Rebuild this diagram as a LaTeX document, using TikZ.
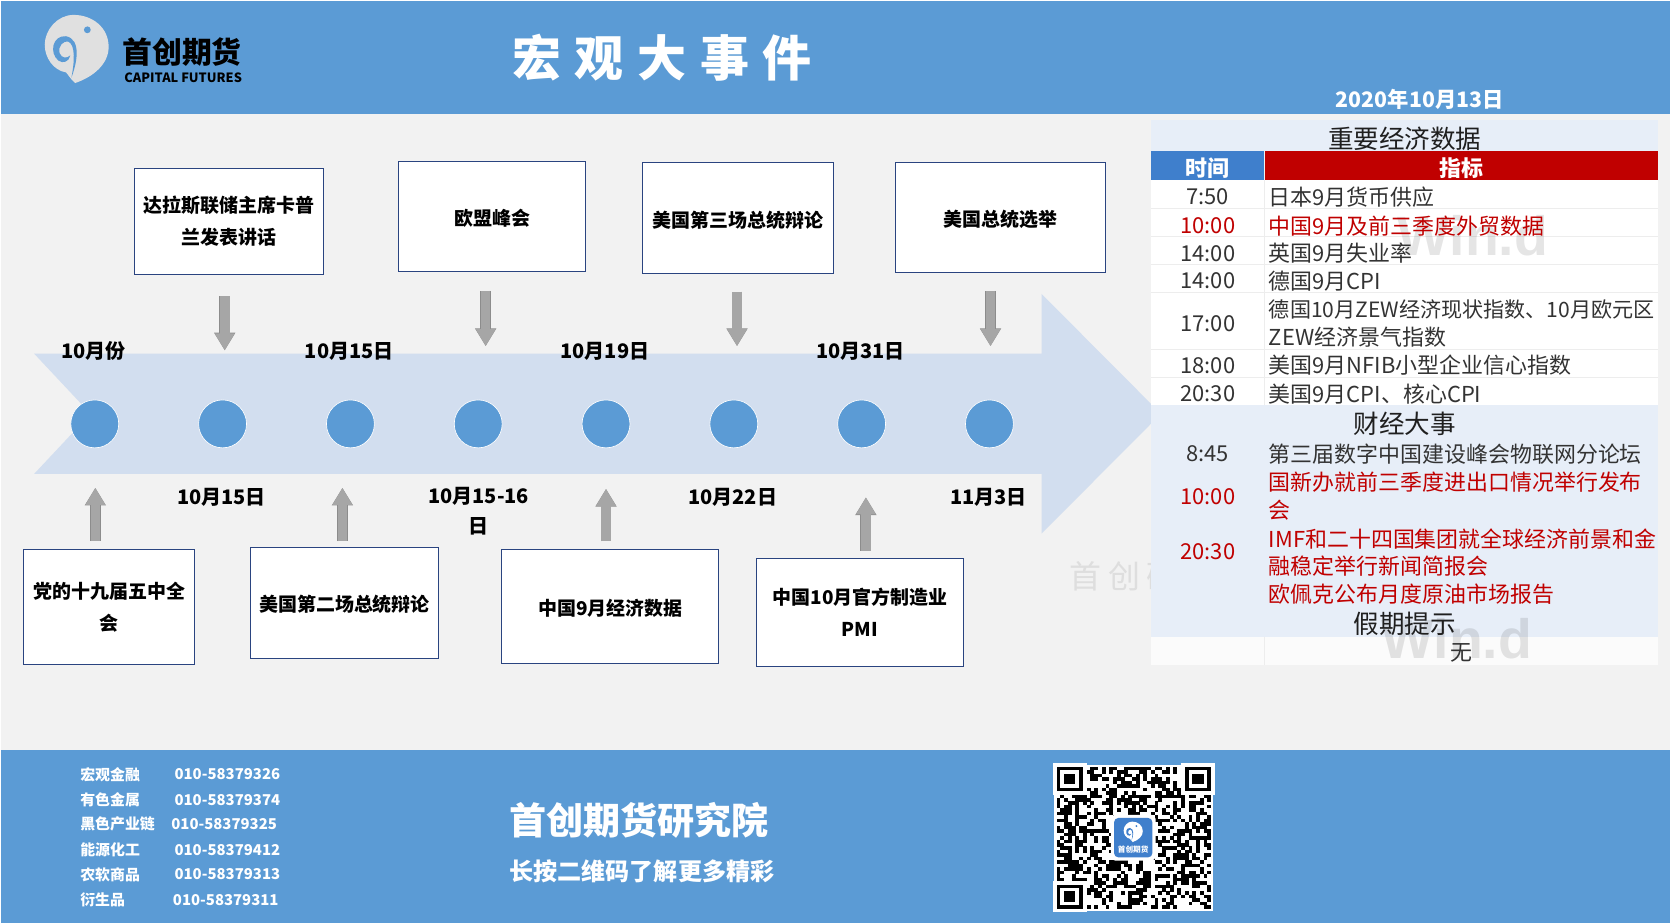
\documentclass[tikz,border=0pt]{standalone}
\usepackage{fontspec}
\setmainfont{Noto Sans CJK SC}
\newfontfamily\windfont{Liberation Sans}
\usetikzlibrary{arrows.meta}

\definecolor{barblue}{HTML}{5B9BD5}
\definecolor{pagegrey}{HTML}{F2F2F2}
\definecolor{bandblue}{HTML}{D2DEEF}
\definecolor{stripblue}{HTML}{E7EEF8}
\definecolor{headblue}{HTML}{3F7FCC}
\definecolor{headred}{HTML}{C00000}
\definecolor{boxline}{HTML}{2A4480}
\definecolor{arrowgrey}{HTML}{A6A6A6}
\definecolor{rowline}{HTML}{EDEDED}
\definecolor{inkgrey}{HTML}{333333}

\tikzset{
  eventbox/.style={draw=boxline,fill=white,line width=0.5pt,inner sep=0pt,align=center,
    execute at begin node={\rule{0pt}{9.5pt}},font=\fontsize{8.9}{15}\selectfont\bfseries},
  datelabel/.style={inner sep=0pt,align=center,yshift=-0.4pt,font=\fontsize{9.4}{14}\selectfont\bfseries},
  dot/.style={circle,draw=white,line width=0.3pt,fill=barblue,minimum size=22.5pt,inner sep=0pt},
  blockarrow/.style={draw=arrowgrey,line width=4.5pt,-{Triangle[width=8.75pt,length=8pt]},
    preaction={draw=gray!90,line width=5.1pt,-{Triangle[width=9.4pt,length=8.3pt]}}},
  rowtext/.style={inner sep=0pt,anchor=west,yshift=-0.5pt,font=\fontsize{10.3}{12}\selectfont},
  rowtime/.style={inner sep=0pt,yshift=-0.5pt,font=\fontsize{10.3}{12}\selectfont},
  sectitle/.style={inner sep=0pt,yshift=-0.5pt,text=black!88,font=\fontsize{12}{14}\selectfont},
  footlabel/.style={inner sep=0pt,anchor=west,yshift=-0.5pt,text=white,font=\fontsize{7}{9}\selectfont\bfseries},
  pics/swirl/.style n args={2}{code={
    \fill[#1] (-1.5,32) .. controls (16,26) and (30,14) .. (30,-2)
      .. controls (30,-20) and (15,-32) .. (-3,-32)
      .. controls (-18,-32) and (-30,-18) .. (-30,-4)
      .. controls (-30,8) and (-22,20) .. (-10,22)
      .. controls (-8,24) and (-6,28) .. (-1.5,32) -- cycle;
    \fill[#2] (-5,27) .. controls (0,14) and (5,-9) .. (-10,-12)
      .. controls (-23,-13) and (-26,4) .. (-17,11)
      .. controls (-13,14) and (-7,12) .. (-6,6)
      .. controls (-9,9) and (-14,9) .. (-16,4)
      .. controls (-18,-3) and (-12,-8) .. (-8,-7)
      .. controls (-1,-4) and (-2,12) .. (-5,27) -- cycle;
    \fill[#2] (10,-18) circle (3.2);
  }},
}

\begin{document}
\begin{tikzpicture}[x=0.5pt,y=-0.5pt]
  \useasboundingbox (0,0) rectangle (1568,866.7);
  \fill[white] (0,0) rectangle (1568,866.7);

  % page and the two blue bars
  \fill[pagegrey] (1,107) rectangle (1568,704);
  \fill[barblue] (1,1) rectangle (1568,107);
  \fill[barblue] (1,704) rectangle (1568,866.7);

  % header
  \pic at (72,46) {swirl={black!12}{barblue}};
  \node[inner sep=0pt,font=\fontsize{14}{16}\selectfont\bfseries] (brand) at (171,49) {首创期货};
  \node[inner sep=0pt,font=\fontsize{6}{7}\selectfont\bfseries] (brandlatin) at (172,73) {CAPITAL FUTURES};
  \node[inner sep=0pt,text=white,font=\fontsize{23}{26}\selectfont\bfseries] (title) at (621.5,54)
    {宏\hspace{6.4pt}观\hspace{6.4pt}大\hspace{6.4pt}事\hspace{6.4pt}件};
  \node[inner sep=0pt,text=white,font=\fontsize{10}{12}\selectfont\bfseries] (date) at (1333,93.5) {2020年10月13日};

  % watermark under the table
  \node[inner sep=0pt,anchor=west,text=black!13,font=\fontsize{15}{18}\selectfont] (markcn) at (1004,541)
    {首\hspace{3pt}创\hspace{3pt}研};

  % timeline band
  \fill[bandblue] (32,332) -- (978,332) -- (978,276) -- (1090,388.5) -- (978,501) -- (978,445) -- (32,445) -- (85,388.5) -- cycle;

  \foreach \n/\x in {1/89,2/209,3/329,4/449,5/569,6/689,7/809,8/929}{
    \node[dot] (dot\n) at (\x,398) {};
  }

  \foreach \n/\x/\txt in {a/88/10月份,b/328/10月15日,c/568/10月19日,d/808/10月31日}{
    \node[datelabel] (up\n) at (\x,329) {\txt};
  }
  \foreach \n/\x/\txt in {a/208/10月15日,b/688/10月22日,c/928/11月3日}{
    \node[datelabel] (low\n) at (\x,466) {\txt};
  }
  \node[datelabel,anchor=north] (lowd) at (449.5,456) {10月15-16\\日};

  % event boxes
  \node[eventbox,minimum width=89pt,minimum height=50pt] (top1) at (215,208) {达拉斯联储主席卡普\\兰发表讲话};
  \node[eventbox,minimum width=88pt,minimum height=51.5pt] (top2) at (462,203.5) {欧盟峰会};
  \node[eventbox,minimum width=90pt,minimum height=52pt] (top3) at (693,205) {美国第三场总统辩论};
  \node[eventbox,minimum width=98.5pt,minimum height=51.5pt] (top4) at (939.5,204.5) {美国总统选举};

  \node[eventbox,minimum width=80.5pt,minimum height=54pt] (bot1) at (102.5,570) {党的十九届五中全\\会};
  \node[eventbox,minimum width=88.5pt,minimum height=52pt] (bot2) at (323.5,566) {美国第二场总统辩论};
  \node[eventbox,minimum width=102pt,minimum height=53.5pt] (bot3) at (573,569.5) {中国9月经济数据};
  \node[eventbox,minimum width=97.5pt,minimum height=51pt] (bot4) at (807.5,575) {中国10月官方制造业\\PMI};

  % grey arrows
  \foreach \n/\x/\a/\b in {1/211/278/329,2/456/273/325,3/692/274/325,4/930/273/325,
                           5/89.5/508/458,6/321.5/508/458,7/569/508/459,8/813/517/467}{
    \coordinate (tail\n) at (\x,\a);
    \coordinate (tip\n) at (\x,\b);
    \draw[blockarrow] (tail\n) -- (tip\n);
  }

  % table backgrounds
  \fill[white] (1081,169) rectangle (1557,380.5);
  \fill[stripblue] (1081,113) rectangle (1557,142);
  \fill[headblue] (1081,142) rectangle (1187,169);
  \fill[headred] (1188,142) rectangle (1557,169);
  \fill[stripblue] (1081,380.5) rectangle (1557,598);
  \fill[white!70!pagegrey] (1081,598) rectangle (1557,624.5);
  \foreach \y in {195.6,222.2,248.2,274.8,328,354.6}{
    \draw[rowline,line width=0.5pt] (1081,\y) -- (1557,\y);
  }
  \draw[rowline,line width=0.5pt] (1187,169) -- (1187,380.5);
  \draw[rowline,line width=0.5pt] (1187,598) -- (1187,624.5);

  % watermarks on the table
  \node[inner sep=0pt,anchor=base west,text=black,opacity=0.1,font=\fontsize{26}{30}\windfont\bfseries] (windup) at (1312,240) {Win.d};
  \node[inner sep=0pt,anchor=base west,text=black,opacity=0.1,font=\fontsize{26}{30}\windfont\bfseries] (windlow) at (1297,618) {Win.d};

  % table text
  \node[sectitle] (datatitle) at (1319,129) {重要经济数据};
  \node[inner sep=0pt,yshift=-0.5pt,text=white,font=\fontsize{10.3}{12}\selectfont\bfseries] (headtime) at (1134,157) {时间};
  \node[inner sep=0pt,yshift=-0.5pt,text=white,font=\fontsize{10.3}{12}\selectfont\bfseries] (headname) at (1372,157) {指标};

  \foreach \n/\y/\t/\c in {1/184/7:50/inkgrey,2/211/10:00/headred,3/237/14:00/inkgrey,4/263/14:00/inkgrey,
                           5/303/17:00/inkgrey,6/342/18:00/inkgrey,7/369/20:30/inkgrey,
                           8/425/8:45/inkgrey,9/465/10:00/headred,10/517/20:30/headred}{
    \node[rowtime,text=\c] (time\n) at (1134,\y) {\t};
  }
  \foreach \n/\y/\txt/\c in {1/184/日本9月货币供应/inkgrey,2/211/中国9月及前三季度外贸数据/headred,
      3/237/英国9月失业率/inkgrey,4/263/德国9月CPI/inkgrey,
      6/316/ZEW经济景气指数/inkgrey,
      7/342/美国9月NFIB小型企业信心指数/inkgrey,8/369/美国9月CPI、核心CPI/inkgrey,
      9/425/第三届数字中国建设峰会物联网分论坛/inkgrey,10/452/国新办就前三季度进出口情况举行发布/headred,
      11/478/会/headred,12/505/IMF和二十四国集团就全球经济前景和金/headred,
      13/531/融稳定举行新闻简报会/headred,14/557/欧佩克公布月度原油市场报告/headred}{
    \node[rowtext,text=\c] (item\n) at (1191,\y) {\txt};
  }
  \node[rowtext,text=inkgrey,font=\fontsize{9.9}{12}\selectfont] (item5) at (1191,290) {德国10月ZEW经济现状指数、10月欧元区};
  \node[sectitle] (newstitle) at (1319,397) {财经大事};
  \node[sectitle] (holidaytitle) at (1319,585) {假期提示};
  \node[rowtime,text=inkgrey] (holiday) at (1372,612) {无};

  % footer
  \foreach \n/\y/\txt/\num/\x in {1/726/宏观金融/010-58379326/163.5,2/750/有色金属/010-58379374/163.5,
      3/773/黑色产业链/010-58379325/160.5,4/797/能源化工/010-58379412/163.5,
      5/820/农软商品/010-58379313/163.5,6/844/衍生品/010-58379311/162}{
    \node[footlabel] (desk\n) at (75,\y) {\txt};
    \node[footlabel] (phone\n) at (\x,\y) {\num};
  }
  \node[inner sep=0pt,anchor=west,text=white,font=\fontsize{17.4}{20}\selectfont\bfseries] (institute) at (478,770) {首创期货研究院};
  \node[inner sep=0pt,anchor=west,text=white,font=\fontsize{11.3}{14}\selectfont\bfseries] (slogan) at (478,818) {长按二维码了解更多精彩};

  % qr code
  \fill[white] (990,718) rectangle (1139,855);
  \begin{scope}[shift={(992,720)},x=1.77pt,y=-1.625pt]
    \pgfmathsetseed{2020}
    \foreach \i in {0,...,40}{
      \foreach \j in {0,...,40}{
        \pgfmathrandominteger{\qrbit}{0}{1}
        \ifnum\qrbit=1 \fill[black] (\i,\j) rectangle ++(1.03,1.03); \fi
      }
    }
    \foreach \px/\py in {0/0,34/0,0/34}{
      \fill[white] (\px-1,\py-1) rectangle ++(9,9);
      \fill[black] (\px,\py) rectangle ++(7,7);
      \fill[white] (\px+1,\py+1) rectangle ++(5,5);
      \fill[black] (\px+2,\py+2) rectangle ++(3,3);
    }
  \end{scope}
  \fill[white,rounded corners=2pt] (1043,765) rectangle (1085,808);
  \fill[headblue,rounded corners=2pt] (1046,768) rectangle (1082,805);
  \pic[scale=0.3] at (1064,781) {swirl={white}{headblue}};
  \node[inner sep=0pt,text=white,font=\fontsize{3.6}{4}\selectfont\bfseries] (qrbrand) at (1064,798) {首创期货};
\end{tikzpicture}
\end{document}
